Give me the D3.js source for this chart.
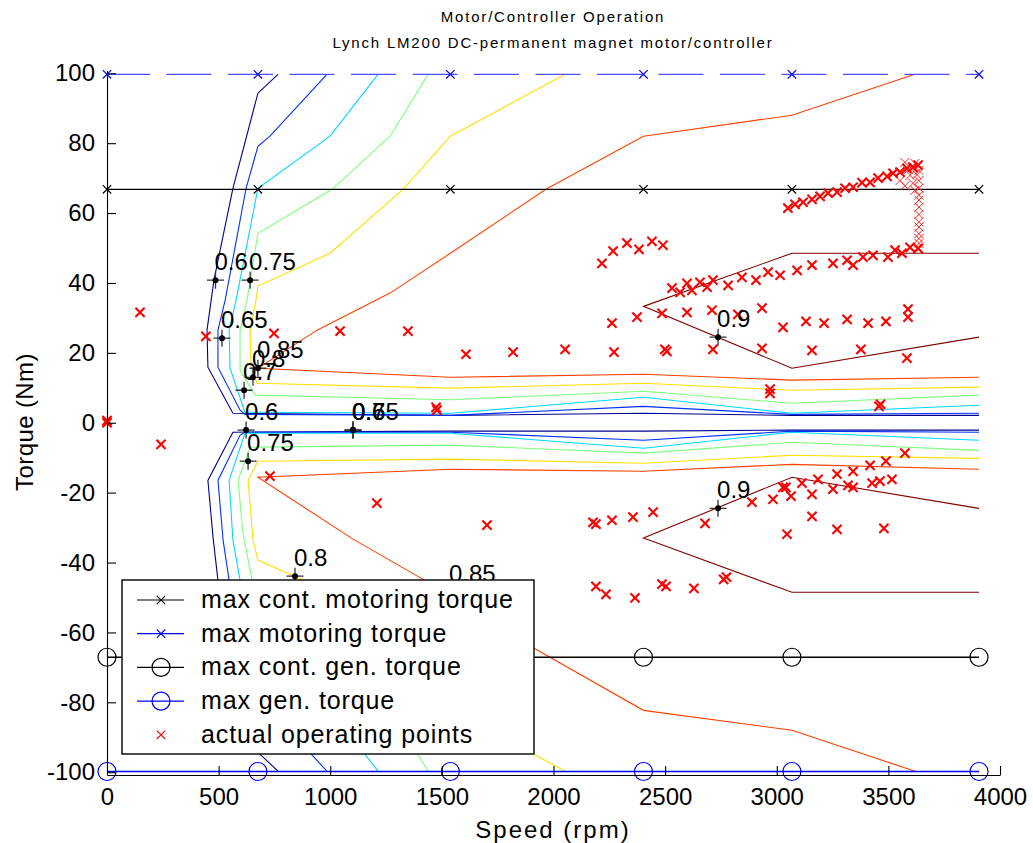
<!DOCTYPE html>
<html>
<head>
<meta charset="utf-8">
<script src="https://cdn.jsdelivr.net/npm/d3@7"></script>
<style>
body { margin: 0; background: #fff; }
text { font-family: "Liberation Sans", Arial, sans-serif; fill: #000; }
</style>
</head>
<body>
<div id="chart_area"></div>
<script>
// speeds where the torque limits were sampled
var speedRpm = [0, 676, 1538, 2403, 3068, 3906];
var maxContMotoring = [66.8, 66.8, 66.8, 66.8, 66.8, 66.8];
var maxMotoring = [99.7, 99.7, 99.7, 99.7, 99.7, 99.7];
var maxContGen = [-67.1, -67.1, -67.1, -67.1, -67.1, -67.1];
var maxGen = [-99.8, -99.8, -99.8, -99.8, -99.8, -99.8];

var xTicks = [0, 500, 1000, 1500, 2000, 2500, 3000, 3500, 4000];
var yTicks = [-100, -80, -60, -40, -20, 0, 20, 40, 60, 80, 100];

// efficiency contours [rpm, Nm], motoring half then generating half
var effLevels = ["0.6", "0.65", "0.7", "0.75", "0.8", "0.85", "0.9"];
var eff60 = [
    [[766, 99.7], [676, 94.3], [564, 67.1], [479, 40.8], [448, 26.5], [452, 15.9], [564, 2.7], [1538, 2.1], [2403, 2.7], [3068, 2.1], [3906, 2.1]],
    [[766, -99.7], [676, -94.3], [564, -67.1], [497, -45.1], [475, -32.8], [452, -16.5], [564, -2.7], [1538, -2.4], [2403, -2.4], [3068, -2.1], [3906, -2.1]]
];
var eff65 = [
    [[985, 99.7], [730, 82.0], [676, 79.1], [623, 67.1], [529, 35.0], [497, 26.5], [497, 15.9], [596, 3.6], [618, 2.4], [1538, 2.1], [2403, 4.7], [3068, 2.4], [3906, 2.7]],
    [[985, -99.7], [730, -82.0], [676, -79.1], [623, -67.1], [547, -45.1], [520, -33.6], [497, -16.5], [596, -3.6], [618, -2.7], [1538, -2.7], [2403, -5.0], [3068, -2.4], [3906, -2.7]]
];
var eff70 = [
    [[1214, 99.7], [999, 82.0], [676, 67.1], [578, 35.0], [547, 26.5], [551, 15.6], [618, 3.0], [1538, 2.7], [2403, 7.3], [3068, 2.7], [3906, 5.0]],
    [[1214, -99.7], [999, -82.0], [676, -67.1], [596, -45.1], [564, -33.6], [547, -16.5], [618, -3.0], [1538, -3.0], [2403, -7.3], [3068, -2.7], [3906, -5.0]]
];
var eff75 = [
    [[1438, 99.7], [1268, 82.0], [1008, 66.8], [676, 54.2], [627, 35.0], [596, 26.5], [596, 15.0], [663, 7.9], [1538, 6.6], [2403, 9.0], [3068, 5.6], [3906, 7.9]],
    [[1438, -99.7], [1268, -82.0], [1008, -66.8], [676, -54.2], [650, -45.1], [609, -31.6], [587, -16.5], [641, -7.0], [1538, -6.4], [2403, -8.7], [3068, -5.6], [3906, -7.9]]
];
var eff80 = [
    [[2052, 99.7], [1538, 82.0], [1326, 66.8], [999, 48.5], [676, 39.1], [667, 35.0], [641, 26.5], [645, 15.9], [672, 11.3], [1538, 9.9], [2403, 11.3], [3068, 9.3], [3906, 10.2]],
    [[2052, -99.7], [1538, -82.0], [1326, -66.8], [999, -48.5], [676, -39.3], [654, -33.6], [632, -16.5], [676, -11.0], [1538, -10.4], [2403, -11.6], [3068, -9.3], [3906, -10.2]]
];
var eff85 = [
    [[3619, 99.7], [3068, 88.0], [2403, 82.0], [1966, 66.8], [1538, 48.5], [1268, 37.1], [941, 26.5], [676, 15.6], [1538, 13.0], [2403, 13.9], [3068, 12.2], [3906, 13.0]],
    [[3619, -99.7], [3068, -88.0], [2403, -82.3], [1917, -64.7], [1424, -45.1], [1102, -33.3], [676, -15.6], [1538, -13.3], [2403, -13.9], [3068, -11.9], [3906, -13.3]]
];
var eff90 = [
    [[3906, 48.5], [3068, 48.5], [2403, 33.3], [3068, 15.6], [3906, 24.5]],
    [[3906, -24.5], [3068, -15.6], [2403, -33.0], [3068, -48.5], [3906, -48.5]]
];
var contours = [eff60, eff65, eff70, eff75, eff80, eff85, eff90];
var levelColours = ["#00008f", "#0030ff", "#00d8ff", "#7fff7f", "#ffdf00", "#ff4000", "#800000"];

// contour labels [rpm, Nm, text]
var clabels = [
    [486, 40.8, "0.6"], [641, 40.8, "0.75"], [515, 24.2, "0.65"], [676, 15.6, "0.85"],
    [654, 13.0, "0.8"], [614, 9.3, "0.7"], [623, -2.1, "0.6"], [632, -11.0, "0.75"],
    [1102, -2.1, "0.6"], [1102, -2.1, "0.65"], [1102, -2.1, "0.7"],
    [842, -43.9, "0.8"], [1536, -48.5, "0.85"], [2737, 24.5, "0.9"], [2737, -24.5, "0.9"]
];

// actual operating points [rpm, Nm]
var opPoints = [
    [0, 0], [0, 0.6], [148, 31.6], [443, 24.7], [748, 25.6], [1044, 26.2], [1348, 26.2],
    [242, -6.2], [730, -15.3], [1478, 3.6], [1474, 4.4], [1209, -23.0], [1702, -29.3],
    [1608, 19.6], [1819, 20.2], [2052, 21.0], [2271, 20.2], [2499, 21.0], [2508, 20.4],
    [2714, 21.0], [2934, 21.3], [3158, 20.7], [3377, 21.0], [3583, 18.5],
    [2262, 28.5], [2374, 30.2], [2486, 31.3], [2598, 31.6], [2710, 32.2], [2826, 31.0],
    [2934, 32.8], [3028, 27.3], [3131, 29.0], [3212, 28.5], [3315, 29.6], [3409, 28.5],
    [3489, 29.0], [3588, 32.5], [3588, 30.2],
    [2217, 45.6], [2267, 49.1], [2329, 51.4], [2383, 49.6], [2441, 51.9], [2490, 50.8],
    [2531, 38.5], [2567, 37.3], [2598, 39.9], [2620, 37.9], [2656, 40.2], [2688, 38.8],
    [2714, 40.8], [2782, 39.3], [2844, 41.6], [2907, 40.8], [2961, 43.1], [3015, 42.2],
    [3091, 43.6], [3158, 45.1], [3252, 45.6], [3315, 46.5], [3342, 45.1], [3386, 47.4],
    [3431, 47.9], [3498, 47.4], [3530, 49.4], [3561, 48.5], [3597, 50.2], [3633, 49.9],
    [3050, 61.4], [3082, 62.5], [3118, 63.1], [3158, 63.9], [3194, 64.8], [3230, 65.7],
    [3270, 66.0], [3306, 67.1], [3342, 67.4], [3382, 68.7], [3418, 68.8], [3454, 70.0],
    [3494, 70.5], [3521, 71.4], [3552, 71.7], [3583, 72.8], [3610, 73.1], [3633, 73.7],
    [2970, 9.6], [2970, 8.4], [3458, 4.7], [3465, 5.3],
    [2177, -28.5], [2190, -29.0], [2262, -27.9], [2356, -27.0], [2446, -25.6], [2679, -28.8],
    [2889, -22.7], [2983, -21.9], [3028, -18.5], [3041, -18.5], [3064, -21.0], [3113, -17.3],
    [3158, -20.5], [3185, -16.2], [3252, -19.0], [3270, -14.7], [3319, -17.9], [3342, -13.9],
    [3342, -18.5], [3418, -12.2], [3427, -17.3], [3462, -16.7], [3489, -11.0], [3516, -16.2],
    [3574, -8.7], [3158, -26.8], [3046, -31.9], [3270, -30.5], [3480, -30.2],
    [2190, -46.8], [2235, -49.1], [2365, -50.1], [2486, -46.2], [2504, -46.8], [2629, -47.4],
    [2762, -44.8], [2775, -44.2]
];
// thinner, overlapping points near top speed
var opPointsFaint = [
    [3552, 69.3], [3574, 67.8], [3597, 70.8], [3619, 66.5], [3637, 69.3], [3637, 65.1],
    [3574, 74.5], [3619, 74.2], [3637, 72.2], [3637, 67.1], [3610, 68.5], [3590, 72.5],
    [3628, 71.0], [3637, 63.7], [3637, 61.7], [3637, 59.6], [3637, 57.5], [3637, 56.0],
    [3637, 54.1], [3637, 52.7], [3637, 51.3], [3637, 49.8]
];

var legendLabels = ["max cont. motoring torque", "max motoring torque", "max cont. gen. torque",
    "max gen. torque", "actual operating points"];

var W = 1033, H = 843;

var svg = d3.select("#chart_area")
    .append("svg")
    .attr("width", W)
    .attr("height", H);

var x = d3.scaleLinear().domain([0, 4000]).range([107, 1000]);
var y = d3.scaleLinear().domain([-100.8, 100.8]).range([775, 70.5]);

// titles
svg.append("text").attr("x", 553).attr("y", 22).attr("text-anchor", "middle")
    .style("font-size", "15px").style("letter-spacing", "1.8px")
    .text("Motor/Controller Operation");
svg.append("text").attr("x", 553).attr("y", 48).attr("text-anchor", "middle")
    .style("font-size", "15px").style("letter-spacing", "1.8px")
    .text("Lynch LM200 DC-permanent magnet motor/controller");

// contours
var line = d3.line().x(function (d) { return x(d[0]); }).y(function (d) { return y(d[1]); });
contours.forEach(function (halves, i) {
    svg.append("g").selectAll("path")
        .data(halves)
        .enter()
        .append("path")
        .attr("d", line)
        .attr("fill", "none")
        .attr("stroke", levelColours[i])
        .attr("stroke-width", 1.1);
});

// torque limit lines
function limitLine(vals, colour, dashed) {
    var pts = speedRpm.map(function (s, i) { return [s, vals[i]]; });
    var p = svg.append("path")
        .attr("d", line(pts))
        .attr("fill", "none")
        .attr("stroke", colour)
        .attr("stroke-width", 1.3);
    if (dashed) p.attr("stroke-dasharray", "45,16.5").attr("stroke-dashoffset", 2);
    return pts;
}
var crossPath = function (r) { return "M" + (-r) + "," + (-r) + "L" + r + "," + r + "M" + (-r) + "," + r + "L" + r + "," + (-r); };

var p1 = limitLine(maxContMotoring, "#000", false);
var p2 = limitLine(maxMotoring, "#4d4dff", true);
var p3 = limitLine(maxContGen, "#000", false);
var p4 = limitLine(maxGen, "#0000ff", false);

[[p1, "#000"], [p2, "#0000ff"]].forEach(function (s) {
    svg.append("g").selectAll("path").data(s[0]).enter().append("path")
        .attr("transform", function (d) { return "translate(" + x(d[0]) + "," + y(d[1]) + ")"; })
        .attr("d", crossPath(4.2))
        .attr("stroke", s[1]).attr("stroke-width", 1.2).attr("fill", "none");
});
[[p3, "#000"], [p4, "#0000ff"]].forEach(function (s) {
    svg.append("g").selectAll("circle").data(s[0]).enter().append("circle")
        .attr("cx", function (d) { return x(d[0]); })
        .attr("cy", function (d) { return y(d[1]); })
        .attr("r", 9)
        .attr("stroke", s[1]).attr("stroke-width", 1.2).attr("fill", "none");
});

// operating points
svg.append("g").selectAll("path").data(opPointsFaint).enter().append("path")
    .attr("transform", function (d) { return "translate(" + x(d[0]) + "," + y(d[1]) + ")"; })
    .attr("d", crossPath(4.5))
    .attr("stroke", "#ff2020").attr("stroke-width", 1).attr("fill", "none");
svg.append("g").selectAll("path").data(opPoints).enter().append("path")
    .attr("transform", function (d) { return "translate(" + x(d[0]) + "," + y(d[1]) + ")"; })
    .attr("d", crossPath(4.6))
    .attr("stroke", "#ff0000").attr("stroke-width", 2.1).attr("fill", "none");

// contour labels
var lab = svg.append("g").selectAll("g").data(clabels).enter().append("g")
    .attr("transform", function (d) { return "translate(" + x(d[0]) + "," + y(d[1]) + ")"; });
lab.append("path").attr("d", "M-8.5,0H8.5M0,-8.5V8.5")
    .attr("stroke", "#333").attr("stroke-width", 1.3);
lab.append("circle").attr("r", 3).attr("fill", "#000");
lab.append("text").attr("x", -1).attr("y", -10)
    .style("font-size", "24px")
    .text(function (d) { return d[2]; });

// axes (ticks inward), plain integer labels with hyphen minus
var plain = function (d) { return String(d); };
var yAxis = svg.append("g").attr("transform", "translate(107,0)")
    .call(d3.axisLeft(y).tickValues(yTicks).tickFormat(plain).tickSizeInner(-9).tickSizeOuter(0).tickPadding(12));
var xAxis = svg.append("g").attr("transform", "translate(0,775)")
    .call(d3.axisBottom(x).tickValues(xTicks).tickFormat(plain).tickSizeInner(-9).tickSizeOuter(0).tickPadding(13));
[yAxis, xAxis].forEach(function (a) {
    a.selectAll("text").style("font-size", "24px").style("font-family", "'Liberation Sans', Arial, sans-serif");
    a.selectAll("line,path").attr("stroke", "#000").attr("stroke-width", 1.1);
});

svg.append("text").attr("x", 553).attr("y", 838).attr("text-anchor", "middle")
    .style("font-size", "24px").style("letter-spacing", "2px")
    .text("Speed (rpm)");
svg.append("text").attr("transform", "translate(33,422) rotate(-90)").attr("text-anchor", "middle")
    .style("font-size", "24px").style("letter-spacing", "0.4px")
    .text("Torque (Nm)");

// legend
var lg = svg.append("g").attr("transform", "translate(122,580)");
lg.append("rect").attr("width", 412).attr("height", 174)
    .attr("fill", "#fff").attr("stroke", "#000").attr("stroke-width", 1.4);
var legendStyles = [
    { colour: "#000", marker: "x" }, { colour: "#0000ff", marker: "x" },
    { colour: "#000", marker: "o" }, { colour: "#0000ff", marker: "o" },
    { colour: "#ff0000", marker: "rx" }
];
legendLabels.forEach(function (t, i) {
    var g = lg.append("g").attr("transform", "translate(0," + (20 + i * 33.7) + ")");
    var st = legendStyles[i];
    if (st.marker !== "rx") {
        g.append("line").attr("x1", 15).attr("x2", 62).attr("stroke", st.colour).attr("stroke-width", 1.2);
    }
    if (st.marker === "o") {
        g.append("circle").attr("cx", 39).attr("r", 9).attr("fill", "none").attr("stroke", st.colour).attr("stroke-width", 1.2);
    } else {
        g.append("path").attr("transform", "translate(39,0)").attr("d", crossPath(4.2))
            .attr("stroke", st.colour).attr("stroke-width", 1.1).attr("fill", "none");
    }
    g.append("text").attr("x", 79).attr("y", 8)
        .style("font-size", "25px").style("letter-spacing", "0.9px")
        .text(t);
});
</script>
</body>
</html>
